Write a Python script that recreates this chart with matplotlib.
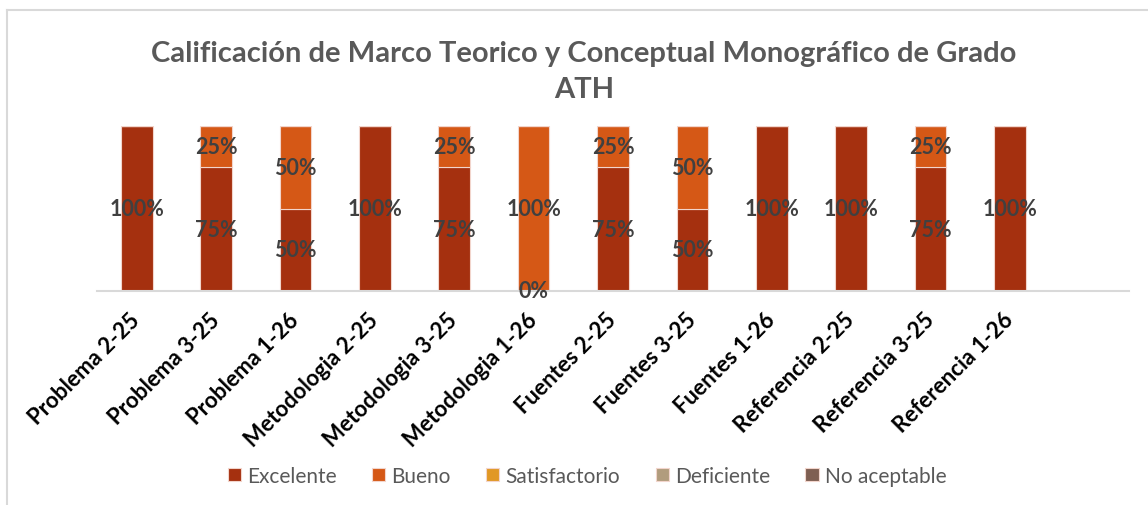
import matplotlib
matplotlib.use("Agg")
import matplotlib.pyplot as plt
from matplotlib.lines import Line2D
import numpy as np

plt.rcParams['font.family'] = ['Lato', 'DejaVu Sans']

# datos (porcentajes); nan = celda vacia, sin etiqueta
categorias = ["Problema 2-25", "Problema 3-25", "Problema 1-26",
              "Metodologia 2-25", "Metodologia 3-25", "Metodologia 1-26",
              "Fuentes 2-25", "Fuentes 3-25", "Fuentes 1-26",
              "Referencia 2-25", "Referencia 3-25", "Referencia 1-26"]
series = ["Excelente", "Bueno", "Satisfactorio", "Deficiente", "No aceptable"]
nan = np.nan
excelente = [100, 75, 50, 100, 75, 0, 75, 50, 100, 100, 75, 100]
bueno = [nan, 25, 50, nan, 25, 100, 25, 50, nan, nan, 25, nan]
satisfactorio = [nan] * 12
deficiente = [nan] * 12
no_aceptable = [nan] * 12
colores = ["#A5300F", "#D55816", "#E19825", "#B19C7D", "#7F5F52"]

titulo = "Calificación de Marco Teorico y Conceptual Monográfico de Grado\nATH"

W, H = 1148, 506
fig = plt.figure(figsize=(W / 100, H / 100), dpi=100)

# borde del area del grafico
fig.add_artist(Line2D([7 / W, 7 / W], [0, 1 - 10.5 / H], transform=fig.transFigure,
                      color="#D9D9D9", lw=1.5))
fig.add_artist(Line2D([7 / W, 1], [1 - 10.5 / H, 1 - 10.5 / H], transform=fig.transFigure,
                      color="#D9D9D9", lw=1.5))

ax = fig.add_axes([97 / W, 214 / H, 1032 / W, 165 / H])
x = np.arange(len(categorias))
base = np.zeros(len(categorias))
for nombre, valores, c in zip(series, [excelente, bueno, satisfactorio, deficiente, no_aceptable], colores):
    v = np.array(valores, dtype=float)
    h = np.nan_to_num(v)
    ax.bar(x, h, 0.4, bottom=base, color=c, edgecolor="#F2D5CC", linewidth=0.8, label=nombre)
    for xi, vi, b in zip(x, v, base):
        if not np.isnan(vi):
            ax.text(xi, b + vi / 2, f"{vi:.0f}%", ha="center", va="center",
                    fontsize=15.5, fontweight="bold", color="#404040")
    base = base + h

ax.set_xlim(-0.5, 12.5)
ax.set_ylim(0, 100)
for s in ["top", "left", "right"]:
    ax.spines[s].set_visible(False)
ax.spines["bottom"].set_color("#D9D9D9")
ax.spines["bottom"].set_linewidth(1.5)
ax.set_yticks([])
ax.set_xticks(x)
ax.set_xticklabels(categorias, rotation=45, ha="right", va="center", rotation_mode="anchor",
                   fontsize=16, fontweight="bold", color="black")
ax.tick_params(axis="x", length=0, pad=18)

fig.text(584 / W, 1 - 72 / H, titulo, ha="center", va="center", fontsize=21,
         fontweight="bold", color="#595959", linespacing=1.48)

fig.legend(loc="center", bbox_to_anchor=(587 / W, 1 - 477 / H), ncol=5, frameon=False,
           fontsize=15, handlelength=0.63, handleheight=0.63, handletextpad=0.3,
           columnspacing=1.7, labelcolor="#595959")

fig.savefig("out.png", dpi=100)
